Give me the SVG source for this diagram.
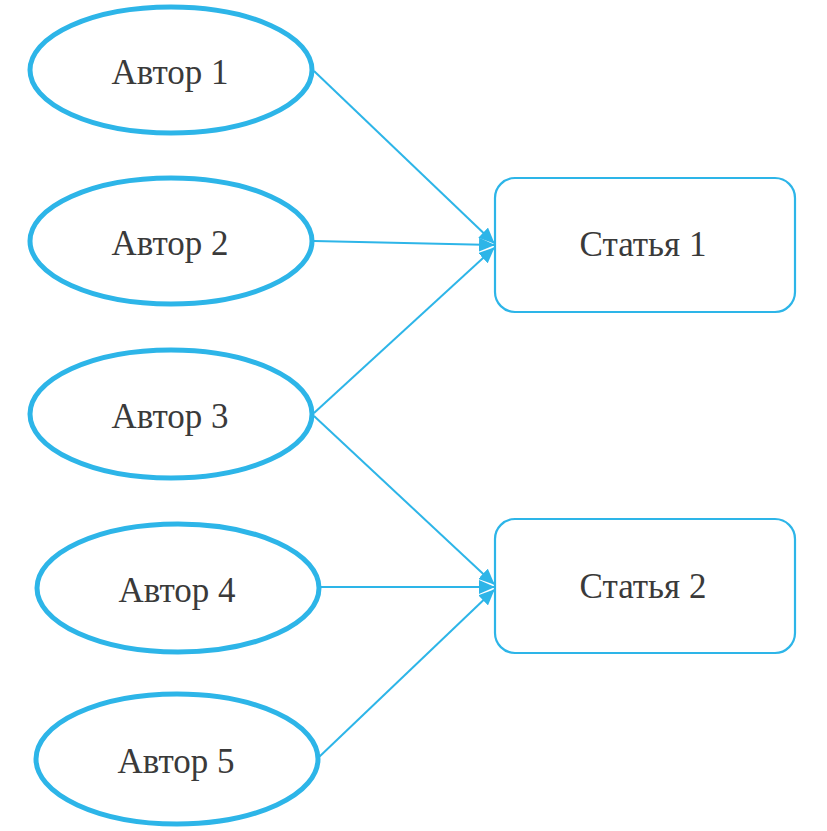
<svg xmlns="http://www.w3.org/2000/svg" width="827" height="831" viewBox="0 0 827 831">
<style>
.au{fill:#fff;stroke:#2db5e8;stroke-width:5}
.ar{fill:#fff;stroke:#2db5e8;stroke-width:2.2}
.t{font-family:'Liberation Serif','Times New Roman',serif;font-size:35px;fill:#3a3a3a;text-anchor:middle}
.c{stroke:#2db5e8;stroke-width:2;fill:none;marker-end:url(#ah)}
</style>
<defs>
<marker id="ah" viewBox="0 0 16 14" refX="15" refY="7" markerWidth="16" markerHeight="14" markerUnits="userSpaceOnUse" orient="auto">
<path d="M0,0 L16,7 L0,14 z" fill="#2db5e8"/>
</marker>
</defs>
<g id="connectors">
<line class="c" x1="314" y1="71" x2="494" y2="243"/>
<line class="c" x1="314" y1="241" x2="494" y2="245"/>
<line class="c" x1="314" y1="413" x2="494" y2="248"/>
<line class="c" x1="314" y1="416" x2="494" y2="584"/>
<line class="c" x1="320" y1="587" x2="494" y2="587"/>
<line class="c" x1="318" y1="758" x2="494" y2="590"/>
</g>
<g id="author1"><ellipse class="au" cx="171" cy="70" rx="141" ry="63"/><text class="t" x="170" y="84">Автор 1</text></g>
<g id="author2"><ellipse class="au" cx="171" cy="241" rx="141" ry="63"/><text class="t" x="170" y="255">Автор 2</text></g>
<g id="author3"><ellipse class="au" cx="171" cy="414" rx="141" ry="64"/><text class="t" x="170" y="428">Автор 3</text></g>
<g id="author4"><ellipse class="au" cx="178" cy="588" rx="141" ry="64"/><text class="t" x="177" y="602">Автор 4</text></g>
<g id="author5"><ellipse class="au" cx="177" cy="759" rx="141" ry="65"/><text class="t" x="176" y="773">Автор 5</text></g>
<g id="article1"><rect class="ar" x="495" y="178" width="300" height="134" rx="20"/><text class="t" x="643" y="256">Статья 1</text></g>
<g id="article2"><rect class="ar" x="495" y="519" width="300" height="134" rx="20"/><text class="t" x="643" y="598">Статья 2</text></g>
</svg>
